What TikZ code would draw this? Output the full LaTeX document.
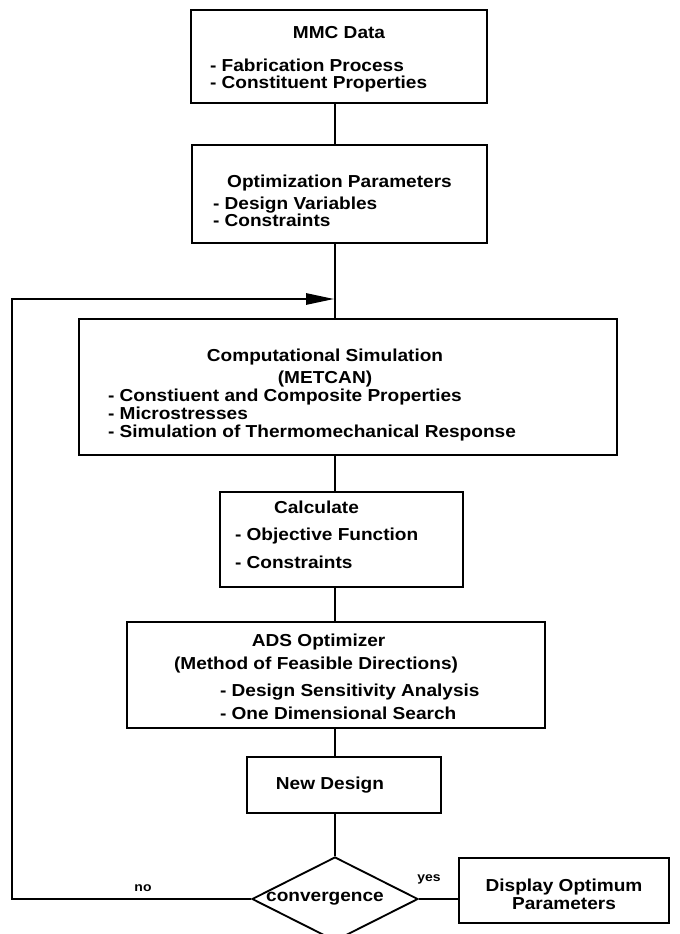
\documentclass[tikz,border=0pt]{standalone}
\usepackage{fontspec}
\setmainfont{Liberation Sans}[FakeStretch=1.1]
\usetikzlibrary{shapes.geometric,arrows.meta}
\newcommand{\toppad}[1]{\rule{0pt}{#1}}
\newcommand{\botpad}[1]{\rule[-#1]{0pt}{#1}}
\newcommand{\bulletat}[2]{\hspace*{#1}\makebox[0pt][l]{- #2}}
\tikzset{
  box/.style={draw,rectangle,inner sep=0pt,align=center,
    font=\bfseries\fontsize{13}{12.75}\selectfont},
  decision/.style={draw,diamond,aspect=2,inner sep=0pt,
    minimum width=124.5pt,minimum height=63pt,
    font=\bfseries\fontsize{13}{12.75}\selectfont},
  answer/.style={font=\bfseries\fontsize{9.5}{12}\selectfont}
}
\begin{document}
\setlength{\lineskiplimit}{-20pt}
\begin{tikzpicture}[x=0.75pt,y=-0.75pt,line width=1.4pt,>={Triangle[length=21pt,width=8.5pt]}]
\useasboundingbox (0,0) rectangle (679,934);
\coordinate (spine) at (335,0);
% the boxes
\node[box,minimum width=222pt,minimum height=69.75pt] (mmc) at (339,56.5)
  {\toppad{13.1pt}MMC Data\\[12pt]\bulletat{-193.5pt}{Fabrication Process}\\\bulletat{-193.5pt}{Constituent Properties}};
\node[box,minimum width=221.25pt,minimum height=73.5pt] (optim) at (339.5,194)
  {\toppad{19.8pt}Optimization Parameters\\[3.75pt]\bulletat{-189.75pt}{Design Variables}\\\bulletat{-189.75pt}{Constraints}};
\node[box,minimum width=403.5pt,minimum height=102pt] (simul) at (348,387)
  {\toppad{21.3pt}\hspace*{-34.5pt}Computational Simulation\\[3.75pt]\hspace*{-34.5pt}(METCAN)\\[0.75pt]\bulletat{-360pt}{Constiuent and Composite Properties}\\[0.75pt]\bulletat{-360pt}{Microstresses}\\[0.75pt]\bulletat{-360pt}{Simulation of Thermomechanical Response}};
\node[box,minimum width=182.25pt,minimum height=71.25pt] (calc) at (341.5,539.5)
  {\hspace*{-37.5pt}Calculate\\[8pt]\bulletat{-159.75pt}{Objective Function}\\[8pt]\bulletat{-159.75pt}{Constraints}\botpad{7.5pt}};
\node[box,minimum width=313.5pt,minimum height=79.5pt] (ads) at (336,675)
  {\toppad{11.4pt}\hspace*{-26pt}ADS Optimizer\\[4.5pt]\hspace*{-30pt}(Method of Feasible Directions)\\[7.5pt]\bulletat{-174pt}{Design Sensitivity Analysis}\\[4.5pt]\bulletat{-174pt}{One Dimensional Search}};
\node[box,minimum width=145.5pt,minimum height=42pt] (newdes) at (344,785) {\hspace*{-21pt}New Design};
\node[decision] (conv) at (335,899) {\hspace*{-15pt}convergence};
\node[box,minimum width=157.5pt,minimum height=48.75pt] (display) at (564,890.5)
  {\toppad{14.6pt}Display Optimum\\[0.75pt]Parameters};
% the lines
\foreach \a/\b in {mmc/optim,optim/simul,simul/calc,calc/ads,ads/newdes}
  {\draw (\a.south -| spine) -- (\b.north -| spine);}
\draw (newdes.south -| spine) -- (conv.north);
\draw (conv.east) -- (display.west |- conv.east);
\coordinate (turn) at (12,299);
\coordinate (merge) at (334,299);
\draw[->] (conv.west) -| (turn) -- (merge);
\node[answer] (yes) at (429,879) {yes};
\node[answer] (no) at (143,888) {no};
\end{tikzpicture}
\end{document}
